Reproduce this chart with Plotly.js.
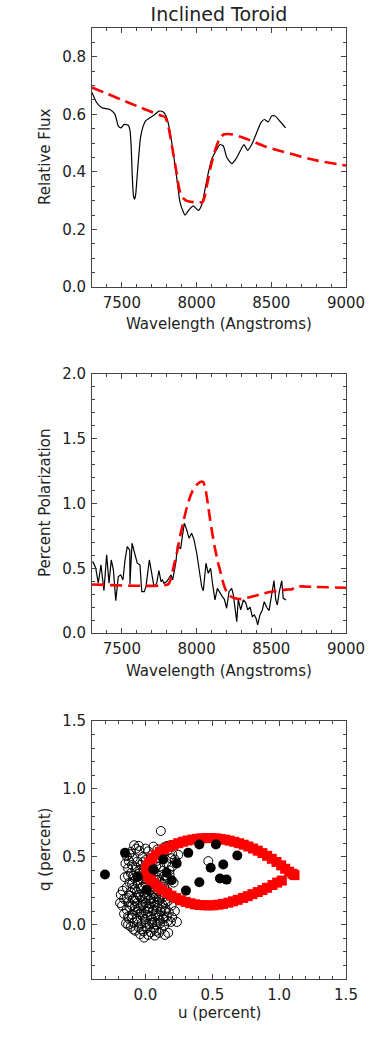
<!DOCTYPE html>
<html>
<head>
<meta charset="utf-8">
<script src="https://cdn.plot.ly/plotly-3.0.1.min.js"></script>
<style>html,body{margin:0;padding:0;background:#fff;}#chart{width:374px;height:1038px;}</style>
</head>
<body>
<div id="chart"></div>
<script>
// ---------- Panel 1: flux ----------
const fluxObsWave = [7300,7331,7365,7420,7454,7476,7494,7516,7543,7554,7562,7570,7578,7585,7592,7600,7612,7625,7643,7660,7688,7722,7748,7777,7800,7822,7844,7867,7889,7910,7922,7949,7978,8011,8034,8056,8078,8101,8128,8157,8179,8201,8235,8268,8302,8317,8342,8369,8402,8431,8453,8480,8502,8525,8558,8596];
const fluxObs     = [0.676,0.641,0.623,0.617,0.600,0.559,0.553,0.565,0.562,0.545,0.49,0.38,0.315,0.305,0.32,0.37,0.45,0.52,0.560,0.578,0.588,0.600,0.611,0.608,0.588,0.541,0.466,0.380,0.295,0.262,0.250,0.268,0.282,0.266,0.285,0.338,0.396,0.443,0.472,0.495,0.490,0.452,0.429,0.449,0.483,0.495,0.475,0.495,0.536,0.571,0.582,0.574,0.594,0.594,0.576,0.553];
const fluxModWave = [7300,7400,7500,7600,7700,7760,7790,7810,7825,7845,7865,7882,7900,7925,7950,7980,8010,8040,8052,8070,8100,8130,8150,8180,8230,8300,8370,8450,8525,8650,8800,9000];
const fluxMod     = [0.693,0.672,0.650,0.629,0.608,0.596,0.590,0.560,0.520,0.460,0.400,0.345,0.315,0.302,0.297,0.295,0.294,0.295,0.310,0.355,0.430,0.485,0.510,0.530,0.531,0.521,0.507,0.490,0.478,0.460,0.440,0.422];

// ---------- Panel 2: polarization ----------
const polObsWave = [7302,7309,7325,7342,7360,7380,7398,7414,7429,7443,7459,7476,7492,7507,7521,7536,7553,7554,7568,7588,7603,7621,7633,7650,7661,7684,7700,7715,7733,7748,7762,7771,7782,7800,7815,7829,7840,7856,7862,7872,7884,7893,7904,7918,7934,7949,7967,7983,8001,8018,8034,8045,8063,8078,8094,8108,8123,8139,8157,8172,8186,8201,8217,8235,8246,8257,8269,8279,8295,8313,8329,8342,8358,8373,8386,8398,8409,8424,8440,8453,8469,8485,8503,8518,8530,8540,8554,8570,8580,8598];
const polObs     = [0.551,0.545,0.500,0.384,0.526,0.327,0.603,0.384,0.564,0.487,0.250,0.436,0.449,0.410,0.564,0.667,0.640,0.379,0.693,0.590,0.539,0.526,0.319,0.319,0.358,0.564,0.461,0.358,0.384,0.482,0.397,0.410,0.384,0.397,0.423,0.449,0.410,0.512,0.550,0.680,0.660,0.650,0.740,0.848,0.796,0.732,0.770,0.719,0.616,0.487,0.358,0.327,0.539,0.461,0.500,0.371,0.255,0.345,0.307,0.281,0.260,0.191,0.319,0.345,0.294,0.203,0.087,0.260,0.178,0.255,0.235,0.178,0.199,0.127,0.140,0.114,0.062,0.140,0.178,0.242,0.199,0.173,0.307,0.404,0.255,0.216,0.319,0.404,0.268,0.255];
const polModWave = [7300,7810,7830,7850,7870,7890,7910,7930,7950,7970,7990,8010,8030,8045,8060,8075,8090,8105,8120,8140,8160,8180,8200,8220,8250,8300,8350,8400,8450,8500,8550,8600,8640,8660,8700,8800,9000];
const polMod     = [0.375,0.375,0.430,0.530,0.630,0.750,0.850,0.950,1.030,1.090,1.130,1.155,1.168,1.165,1.110,1.000,0.880,0.770,0.670,0.560,0.470,0.380,0.320,0.290,0.270,0.262,0.275,0.290,0.305,0.318,0.328,0.335,0.338,0.360,0.360,0.355,0.350];

// ---------- Panel 3: q-u plane ----------
const uOpen = [0.115,-0.085,-0.07,0.06,0.09,0.14,-0.11,-0.045,0.02,0.165,0.2,0.245,-0.14,-0.095,-0.02,0.05,0.125,0.19,0.23,-0.125,-0.06,0.0,0.085,0.155,0.47,-0.15,-0.1,-0.035,0.035,0.11,0.2,
  -0.13,-0.075,-0.015,0.06,0.13,0.18,-0.11,-0.05,0.02,0.1,0.15,-0.155,-0.085,-0.025,0.045,0.115,0.21,-0.12,-0.06,0.0,0.075,0.14,-0.14,-0.095,-0.035,0.025,0.1,0.165,-0.065,0.055,
  -0.185,-0.12,-0.05,0.01,0.08,0.135,-0.16,-0.09,-0.02,0.04,0.105,0.17,-0.13,-0.06,0.0,0.065,0.125,0.195,-0.175,-0.1,-0.035,0.03,0.09,0.15,-0.14,-0.075,-0.01,0.055,0.115,0.175,0.22,
  -0.16,-0.1,-0.045,0.015,0.075,0.135,0.2,-0.125,-0.065,-0.005,0.05,0.105,0.165,0.235,-0.145,-0.09,-0.03,0.03,0.085,0.14,-0.11,-0.05,0.01,0.065,0.12,-0.075,-0.015,0.04,0.1,0.145,-0.04,0.02,-0.01,
  0.02,0.07,-0.03,0.04,0.1,-0.07,0.05,-0.01,0.08,-0.04,0.03,0.0,0.06,-0.08,0.12,-0.02,0.09,0.03,-0.11,0.16,-0.05,0.01,-0.09,0.07,
  -0.06,0.0,0.05,0.11,-0.03,0.08,0.13,-0.1,0.02,0.1,-0.06,0.145,-0.12,-0.02,0.04,0.09,0.15,-0.08,0.06,0.12,-0.04,0.0,-0.14,0.03,-0.08,0.08,0.13,-0.02,0.04,-0.1,0.1,-0.05,0.06,-0.13,0.0,0.14,-0.07,0.08,-0.02,0.04,-0.12,0.09,-0.05,0.16,0.0,0.22,0.18,-0.17,-0.19,-0.13,0.19,0.17,-0.09,0.07,-0.13];
const qOpen = [0.69,0.585,0.56,0.575,0.555,0.57,0.535,0.545,0.54,0.545,0.52,0.515,0.505,0.49,0.5,0.515,0.5,0.49,0.46,0.47,0.465,0.475,0.47,0.455,0.468,0.45,0.44,0.44,0.445,0.43,0.43,
  0.415,0.405,0.41,0.4,0.395,0.37,0.38,0.375,0.365,0.36,0.33,0.35,0.345,0.335,0.33,0.315,0.31,0.31,0.305,0.3,0.29,0.28,0.275,0.27,0.265,0.26,0.25,0.245,0.24,0.235,
  0.22,0.215,0.22,0.215,0.21,0.205,0.19,0.19,0.185,0.19,0.18,0.175,0.165,0.16,0.16,0.165,0.15,0.14,0.14,0.14,0.135,0.13,0.125,0.115,0.11,0.11,0.105,0.1,0.095,0.09,0.1,
  0.08,0.075,0.08,0.07,0.07,0.06,0.055,0.045,0.045,0.04,0.04,0.035,0.025,0.02,0.01,0.015,0.01,0.005,0.0,-0.005,-0.015,-0.02,-0.025,-0.03,-0.035,-0.045,-0.05,-0.055,-0.06,-0.075,-0.07,-0.075,-0.095,
  0.12,0.145,0.09,0.06,0.2,0.2,0.28,0.235,0.33,0.4,0.42,0.02,0.11,0.13,0.13,0.06,0.05,0.18,0.24,0.06,0.12,0.33,0.36,0.02,
  0.03,-0.01,0.015,0.01,-0.035,-0.045,0.045,0.05,0.095,0.075,0.095,0.1,0.13,0.145,0.155,0.165,0.16,0.175,0.195,0.225,0.205,0.195,0.2,0.25,0.26,0.26,0.3,0.28,0.305,0.3,0.33,0.33,0.36,0.36,0.38,0.36,0.42,0.43,0.46,0.49,0.52,0.52,0.58,0.58,0.56,0.48,0.4,0.25,0.16,0.06,0.02,-0.06,-0.035,-0.08,0.0];
const uModel = [1.02,0.985,0.95,0.91,0.875,0.84,0.80,0.765,0.73,0.69,0.655,0.62,0.58,0.545,0.51,0.475,0.44,0.405,0.37,0.335,0.30,0.265,0.23,0.195,0.16,0.125,0.095,0.065,0.04,0.02,0.008,0.005,0.012,0.028,0.05,0.077,0.108,0.14,0.175,0.21,0.245,0.28,0.315,0.35,0.385,0.42,0.455,0.49,0.525,0.56,0.595,0.63,0.665,0.70,0.735,0.77,0.805,0.84,0.875,0.91,0.945,0.98,1.015,1.045,1.075,1.10,1.115];
const qModel = [0.325,0.31,0.292,0.272,0.255,0.24,0.225,0.21,0.197,0.183,0.172,0.162,0.153,0.147,0.143,0.142,0.143,0.145,0.15,0.158,0.168,0.18,0.196,0.213,0.233,0.255,0.278,0.302,0.326,0.352,0.378,0.405,0.432,0.46,0.487,0.513,0.536,0.555,0.572,0.587,0.60,0.611,0.62,0.627,0.632,0.636,0.638,0.638,0.636,0.632,0.626,0.619,0.61,0.60,0.589,0.576,0.561,0.545,0.527,0.507,0.485,0.462,0.437,0.412,0.39,0.375,0.365];
const uFilled = [-0.303,-0.153,-0.058,0.009,0.059,0.133,0.159,0.196,0.233,0.320,0.303,0.403,0.403,0.488,0.527,0.582,0.557,0.607,0.687];
const qFilled = [0.369,0.529,0.352,0.258,0.406,0.480,0.382,0.327,0.450,0.529,0.251,0.591,0.313,0.419,0.591,0.443,0.340,0.332,0.510];

const W = 374, H = 1038;
const FONT = 'DejaVu Sans';
const TXT = '#222';
const LINE = '#444';
const RED = '#ff0000';

const xd = [92/W, 346/W];
function yd(top, bot){ return [1 - bot/H, 1 - top/H]; }

function ax(extra){
  return Object.assign({
    showline:true, linecolor:LINE, linewidth:1, mirror:'ticks',
    ticks:'inside', ticklen:5, tickwidth:1, tickcolor:LINE,
    showgrid:false, zeroline:false, fixedrange:true,
    tickfont:{family:FONT, size:15, color:TXT},
  }, extra);
}
function xax(extra){ return ax(Object.assign({ticklabelstandoff:2}, extra)); }
function yax(extra){ return ax(Object.assign({ticklabelstandoff:2}, extra)); }

const traces = [
  {x:fluxObsWave, y:fluxObs, type:'scatter', mode:'lines', xaxis:'x', yaxis:'y',
   line:{color:'#000', width:1.2, shape:'spline', smoothing:0.6}},
  {x:fluxModWave, y:fluxMod, type:'scatter', mode:'lines', xaxis:'x', yaxis:'y',
   line:{color:RED, width:2.6, dash:'12px,6px', shape:'spline', smoothing:0.6}},
  {x:polObsWave, y:polObs, type:'scatter', mode:'lines', xaxis:'x2', yaxis:'y2',
   line:{color:'#000', width:1.2}},
  {x:polModWave, y:polMod, type:'scatter', mode:'lines', xaxis:'x2', yaxis:'y2',
   line:{color:RED, width:2.6, dash:'12px,6px', shape:'spline', smoothing:0.5}},
  {x:uOpen, y:qOpen, type:'scatter', mode:'markers', xaxis:'x3', yaxis:'y3',
   marker:{symbol:'circle-open', size:9, color:'#000', line:{width:1, color:'#000'}}},
  {x:uModel, y:qModel, type:'scatter', mode:'markers', xaxis:'x3', yaxis:'y3',
   marker:{symbol:'square', size:10, color:RED, line:{width:0}}},
  {x:uFilled, y:qFilled, type:'scatter', mode:'markers', xaxis:'x3', yaxis:'y3',
   marker:{symbol:'circle', size:10, color:'#000', line:{width:0}}}
];

function ann(text, x, y, rot){
  return {text:text, xref:'paper', yref:'paper', x:x/W, y:1-y/H, showarrow:false,
    xanchor:'center', yanchor:'middle', textangle:rot||0,
    font:{family:FONT, size:15, color:TXT}};
}

const layout = {
  width:W, height:H, margin:{l:0,r:0,t:0,b:0},
  paper_bgcolor:'#fff', plot_bgcolor:'#fff', showlegend:false,
  title:{text:'Inclined Toroid', x:219/W, y:1-14/H, xanchor:'center', yanchor:'middle',
    font:{family:FONT, size:19, color:TXT}},
  xaxis: xax({domain:xd, anchor:'y', range:[7300,9000], tick0:7500, dtick:500,
    minor:{ticks:'inside', ticklen:3, dtick:100, tickcolor:LINE}}),
  yaxis: yax({domain:yd(28,287), anchor:'x', range:[0,0.9], tick0:0, dtick:0.2, tickformat:'.1f',
    minor:{ticks:'inside', ticklen:3, dtick:0.05, tickcolor:LINE}}),
  xaxis2: xax({domain:xd, anchor:'y2', range:[7300,9000], tick0:7500, dtick:500,
    minor:{ticks:'inside', ticklen:3, dtick:100, tickcolor:LINE}}),
  yaxis2: yax({domain:yd(374,633), anchor:'x2', range:[0,2.0], tick0:0, dtick:0.5, tickformat:'.1f',
    minor:{ticks:'inside', ticklen:3, dtick:0.1, tickcolor:LINE}}),
  xaxis3: xax({domain:xd, anchor:'y3', range:[-0.4,1.5], tick0:0, dtick:0.5, tickformat:'.1f',
    minor:{ticks:'inside', ticklen:3, dtick:0.1, tickcolor:LINE}}),
  yaxis3: yax({domain:yd(721,979), anchor:'x3', range:[-0.4,1.5], tick0:0, dtick:0.5, tickformat:'.1f',
    minor:{ticks:'inside', ticklen:3, dtick:0.1, tickcolor:LINE}}),
  annotations:[
    ann('Relative Flux', 45, 157, -90),
    ann('Wavelength (Angstroms)', 219, 324),
    ann('Percent Polarization', 45, 503, -90),
    ann('Wavelength (Angstroms)', 219, 671),
    ann('q (percent)', 45, 850, -90),
    ann('u (percent)', 219, 1013)
  ]
};

Plotly.newPlot('chart', traces, layout, {staticPlot:true, displayModeBar:false});
</script>
</body>
</html>
